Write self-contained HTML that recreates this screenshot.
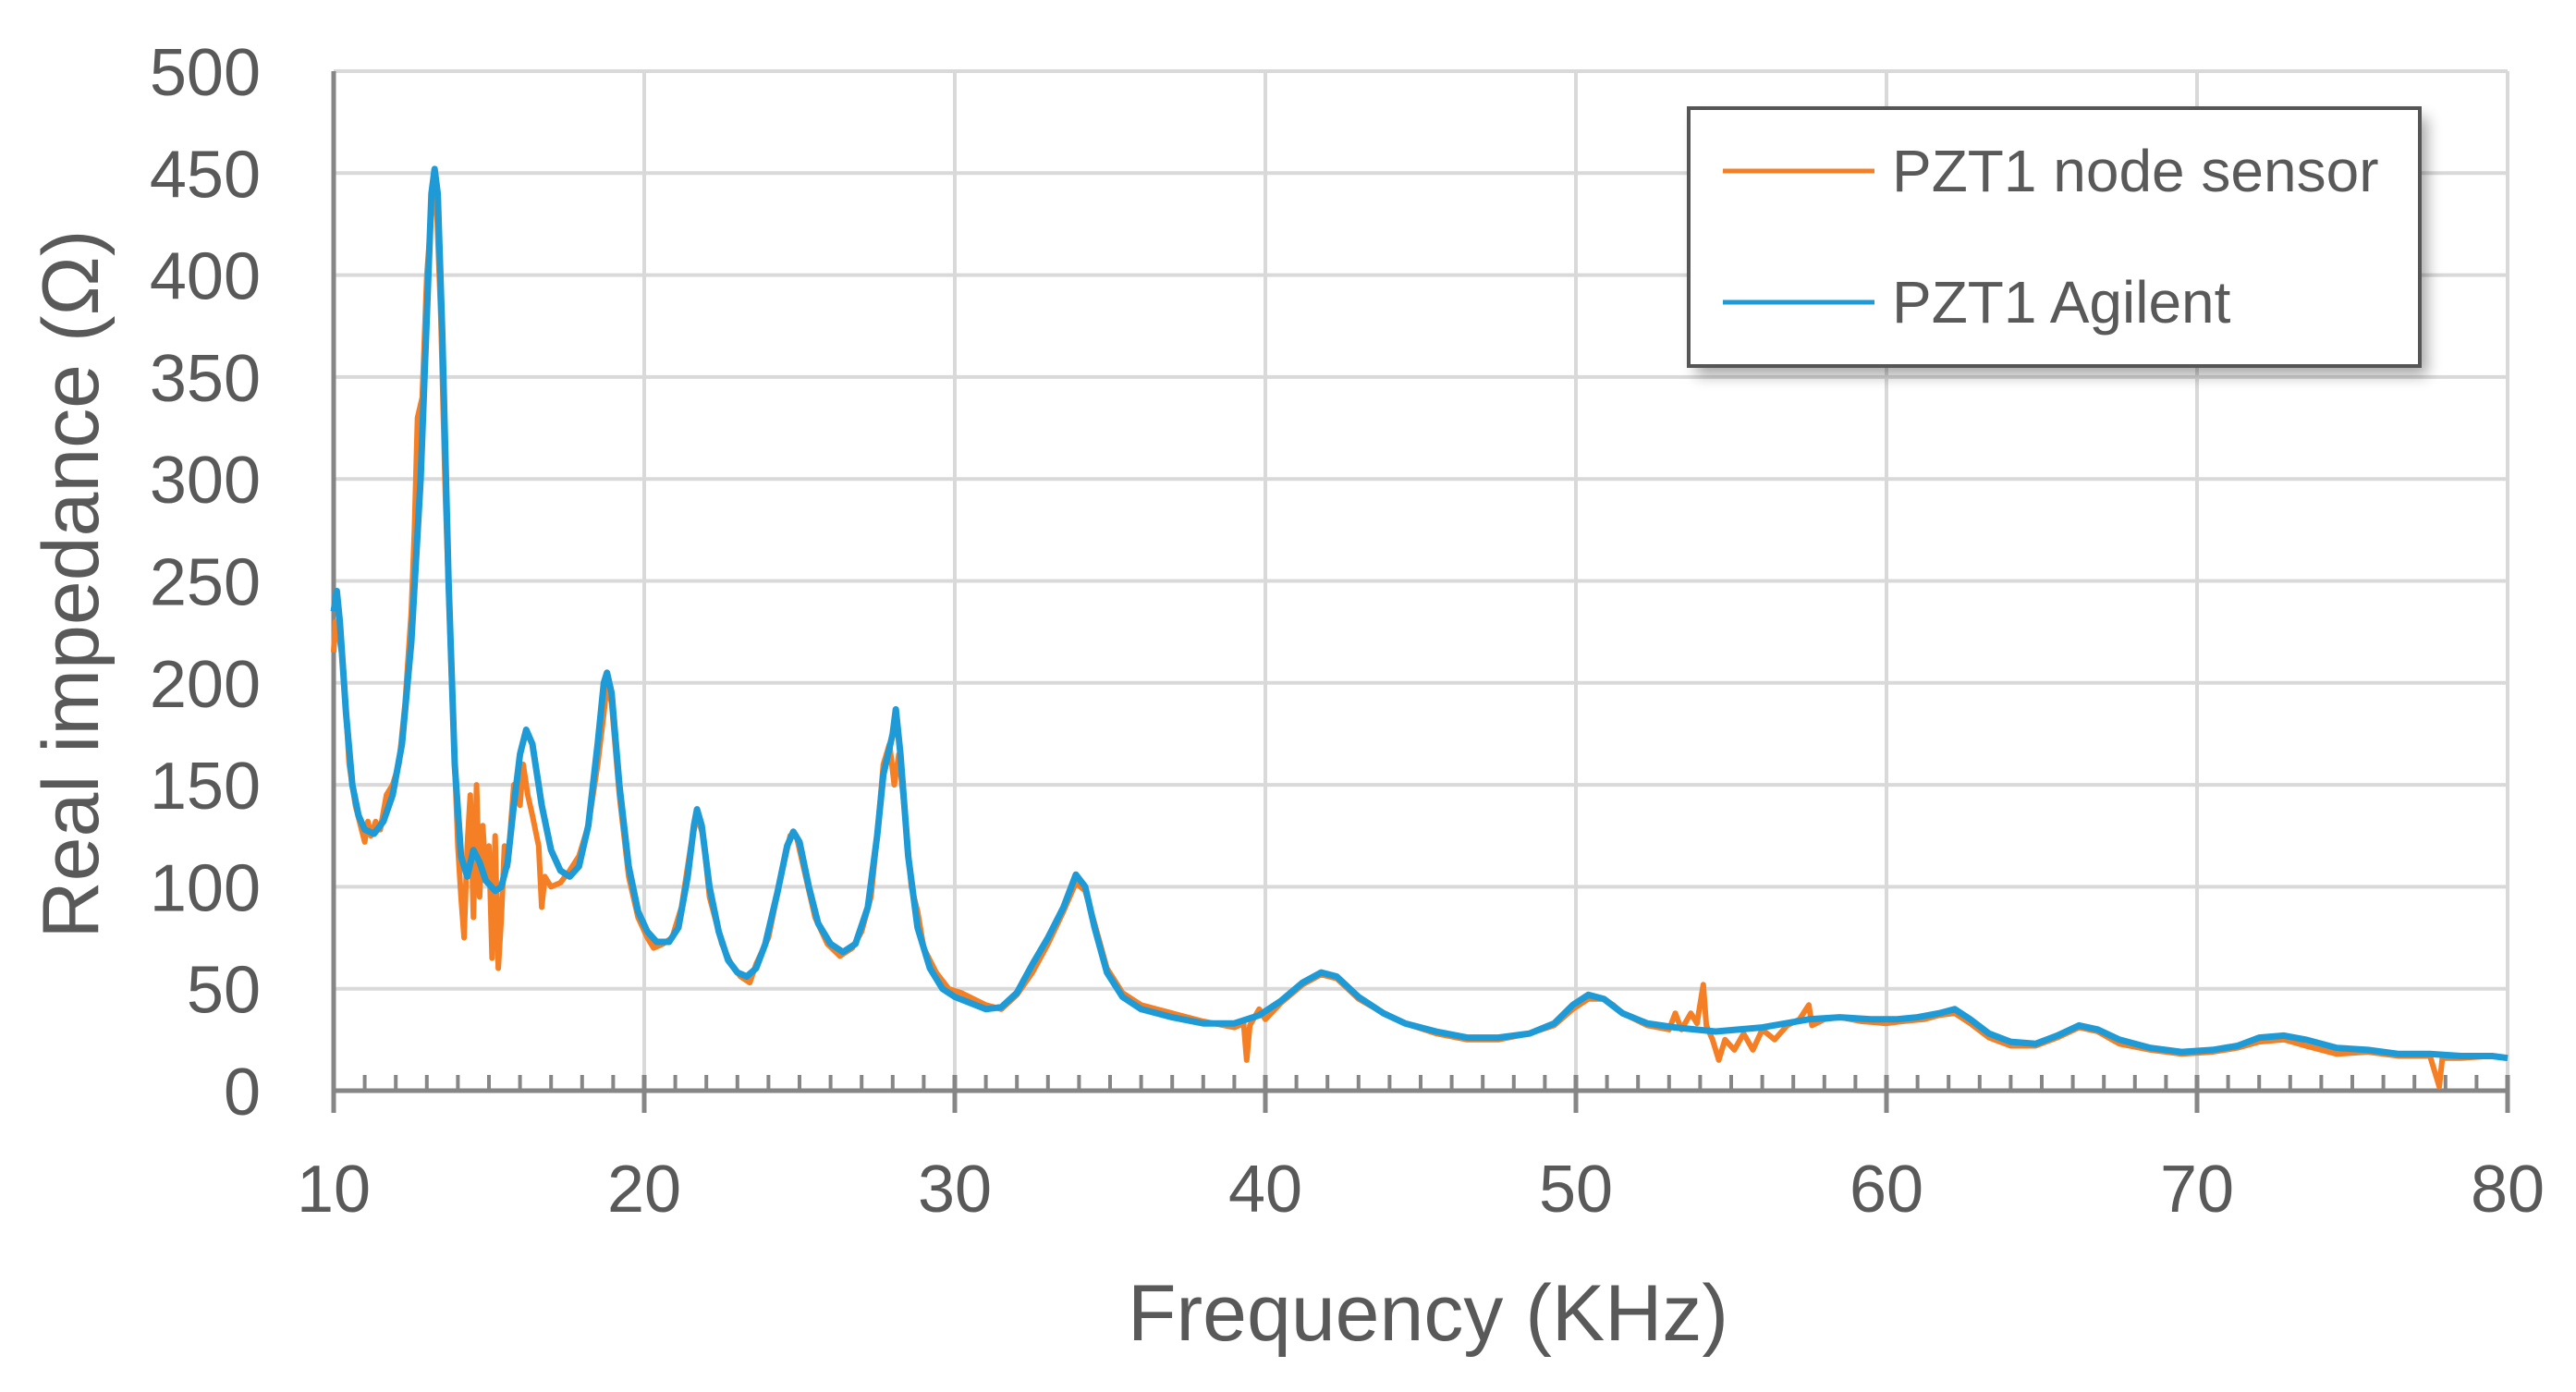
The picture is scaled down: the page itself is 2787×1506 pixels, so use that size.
<!DOCTYPE html>
<html><head><meta charset="utf-8"><style>
html,body{margin:0;padding:0;background:#fff;}
svg{display:block;font-family:"Liberation Sans",sans-serif;}
</style></head><body>
<svg id="chart" width="2787" height="1506" viewBox="0 0 2787 1506" xmlns="http://www.w3.org/2000/svg">
<defs><filter id="sh" x="-10%" y="-10%" width="130%" height="140%"><feGaussianBlur stdDeviation="8"/></filter></defs>
<g id="grid"></g>
<g id="axes"></g>
<g id="series"></g>
<text transform="translate(106,632) rotate(-90)" text-anchor="middle" font-size="86" fill="#595959">Real impedance (Ω)</text>
<text x="1545" y="1450" text-anchor="middle" font-size="86" fill="#595959">Frequency (KHz)</text>
<g>
<rect x="1835" y="127" width="791" height="279" fill="#000" opacity="0.35" filter="url(#sh)"/>
<rect x="1827" y="117" width="791" height="279" fill="#fff" stroke="#555" stroke-width="4"/>
<line x1="1864" y1="185" x2="2028" y2="185" stroke="#F57F24" stroke-width="5"/>
<text x="2047" y="207" font-size="64" fill="#595959">PZT1 node sensor</text>
<line x1="1864" y1="327" x2="2028" y2="327" stroke="#1E9BD7" stroke-width="5"/>
<text x="2047" y="349" font-size="64" fill="#595959">PZT1 Agilent</text>
</g>
</svg>
<script>
const xTicks=[10,20,30,40,50,60,70,80];
const yTicks=[0,50,100,150,200,250,300,350,400,450,500];
const agilentFreq=[10.0,10.1,10.2,10.4,10.6,10.8,11.0,11.3,11.6,11.9,12.2,12.5,12.8,13.0,13.15,13.25,13.35,13.5,13.7,13.9,14.1,14.3,14.5,14.7,14.9,15.2,15.4,15.6,15.8,16.0,16.2,16.4,16.7,17.0,17.3,17.6,17.9,18.2,18.5,18.7,18.8,18.95,19.2,19.5,19.8,20.1,20.4,20.8,21.1,21.4,21.6,21.7,21.85,22.1,22.4,22.7,23.0,23.3,23.6,23.9,24.3,24.6,24.8,25.0,25.3,25.6,26.0,26.4,26.8,27.2,27.5,27.7,27.85,28.0,28.1,28.25,28.5,28.8,29.2,29.6,30.0,30.5,31.0,31.5,32.0,32.5,33.0,33.5,33.9,34.2,34.5,34.9,35.4,36.0,37.0,38.0,39.0,39.8,40.5,41.2,41.8,42.3,43.0,43.8,44.5,45.5,46.5,47.5,48.5,49.3,49.9,50.4,50.9,51.5,52.3,53.2,54.5,56.0,57.5,58.5,59.5,60.3,61.0,61.7,62.2,62.7,63.3,64.0,64.8,65.5,66.2,66.8,67.5,68.5,69.5,70.5,71.3,72.0,72.8,73.5,74.5,75.5,76.5,77.5,78.5,79.5,80];
const agilentVal=[235,245,230,185,150,135,128,126,132,145,170,220,300,380,440,452,440,370,250,160,115,105,118,112,103,98,100,112,140,165,177,170,140,118,108,105,110,130,170,200,205,195,150,110,88,78,73,73,80,105,130,138,130,100,78,64,58,56,60,72,98,120,127,122,100,82,72,68,72,90,125,155,165,175,187,165,115,80,60,50,46,43,40,41,48,62,75,90,106,100,80,58,46,40,36,33,33,37,44,53,58,56,46,38,33,29,26,26,28,33,42,47,45,38,33,31,29,31,35,36,35,35,36,38,40,35,28,24,23,27,32,30,25,21,19,20,22,26,27,25,21,20,18,18,17,17,16];
const nodeFreq=[10.0,10.05,10.15,10.3,10.5,10.7,10.9,11.0,11.1,11.2,11.35,11.5,11.7,11.9,12.1,12.3,12.5,12.6,12.7,12.85,13.0,13.15,13.3,13.45,13.6,13.8,14.0,14.1,14.2,14.3,14.4,14.5,14.6,14.7,14.8,14.9,15.0,15.1,15.2,15.3,15.4,15.5,15.6,15.8,16.0,16.1,16.25,16.4,16.6,16.7,16.8,17.0,17.3,17.6,17.9,18.2,18.5,18.7,18.8,18.95,19.2,19.5,19.8,20.1,20.3,20.6,20.9,21.2,21.5,21.7,21.9,22.1,22.5,22.8,23.1,23.4,23.6,24.0,24.4,24.7,24.9,25.2,25.5,25.9,26.3,26.7,27.0,27.3,27.5,27.7,27.9,28.05,28.2,28.4,28.6,28.8,29.0,29.4,29.8,30.2,30.6,31.0,31.5,32.0,32.5,33.0,33.5,33.9,34.2,34.5,34.9,35.4,36,36.5,37,38,39,39.3,39.4,39.5,39.8,40,40.5,41.2,41.8,42.3,43,43.8,44.5,45.5,46.5,47.5,48.5,49.3,49.9,50.4,50.9,51.2,51.5,52.3,53.0,53.2,53.4,53.7,53.9,54.1,54.2,54.4,54.6,54.8,55.1,55.4,55.7,56.0,56.4,56.8,57.2,57.5,57.6,58.0,58.5,59.2,60,60.5,61.2,61.7,62.2,62.7,63.3,64,64.8,65.5,66.2,66.8,67.5,68.5,69.5,70.5,71.3,72,72.8,73.5,74.5,75.5,76.5,77.5,77.8,77.9,78.5,79.5,80];
const nodeVal=[215,230,225,210,160,140,128,122,132,125,132,128,145,150,160,190,235,275,330,340,400,430,440,380,290,200,120,95,75,120,145,85,150,95,130,105,120,65,125,60,85,120,110,150,140,160,145,135,120,90,105,100,102,108,115,130,160,185,200,190,145,105,85,75,70,72,75,90,120,135,125,95,72,62,56,53,62,75,105,125,125,105,85,72,66,70,78,95,125,160,170,150,165,135,100,88,70,58,50,48,45,42,40,47,58,72,88,102,98,82,60,48,42,40,38,34,31,33,15,32,40,35,43,52,57,55,45,38,33,28,25,25,28,32,40,45,45,42,38,32,30,38,30,38,33,52,32,25,15,25,20,28,20,30,25,32,35,42,32,35,36,34,33,34,35,37,38,33,26,22,22,26,31,29,23,20,18,19,21,24,25,22,18,19,17,17,2,16,16,17,16];

const X0=361,X1=2713,Y0=1180,Y1=77;
const xs=f=>X0+(f-10)/70*(X1-X0);
const ys=v=>Y0-(v/500)*(Y0-Y1);
const NS="http://www.w3.org/2000/svg";
function mk(tag,attrs,parent){const e=document.createElementNS(NS,tag);for(const k in attrs)e.setAttribute(k,attrs[k]);parent.appendChild(e);return e;}
const grid=document.getElementById('grid'),axes=document.getElementById('axes'),series=document.getElementById('series');
yTicks.forEach(v=>{
  if(v>0){const l=mk('line',{x1:X0,x2:X1,y1:ys(v),y2:ys(v),stroke:'#d9d9d9','stroke-width':4},grid);
  
  }
  const t=mk('text',{x:282,y:ys(v)+26,'text-anchor':'end','font-size':72,fill:'#595959'},axes);
  t.textContent=v;
  
  
});
xTicks.forEach(f=>{
  if(f>10){const l=mk('line',{x1:xs(f),x2:xs(f),y1:Y1,y2:Y0,stroke:'#d9d9d9','stroke-width':4},grid);
  
  }
  const t=mk('text',{x:xs(f),y:1311,'text-anchor':'middle','font-size':72,fill:'#595959'},axes);
  t.textContent=f;
  
  
  const tk=mk('line',{x1:xs(f),x2:xs(f),y1:Y0-17,y2:Y0+24,stroke:'#868686','stroke-width':5},axes);
  
  
});
for(let f=11;f<80;f++){if(f%10===0)continue;
  const tk=mk('line',{x1:xs(f),x2:xs(f),y1:Y0-17,y2:Y0,stroke:'#868686','stroke-width':4},axes);
  
  
}
const ya=mk('line',{x1:X0,x2:X0,y1:Y1,y2:Y0+24,stroke:'#868686','stroke-width':5},axes);


const xa=mk('line',{x1:X0,x2:X1,y1:Y0,y2:Y0,stroke:'#868686','stroke-width':5},axes);


function path(fr,vals){return fr.map((f,i)=>(i?'L':'M')+xs(f).toFixed(1)+','+ys(vals[i]).toFixed(1)).join('');}
const p1=mk('path',{d:path(nodeFreq,nodeVal),fill:'none',stroke:'#F57F24','stroke-width':6,'stroke-linejoin':'round'},series);


const p2=mk('path',{d:path(agilentFreq,agilentVal),fill:'none',stroke:'#1E9BD7','stroke-width':7,'stroke-linejoin':'round'},series);


</script>
</body></html>
